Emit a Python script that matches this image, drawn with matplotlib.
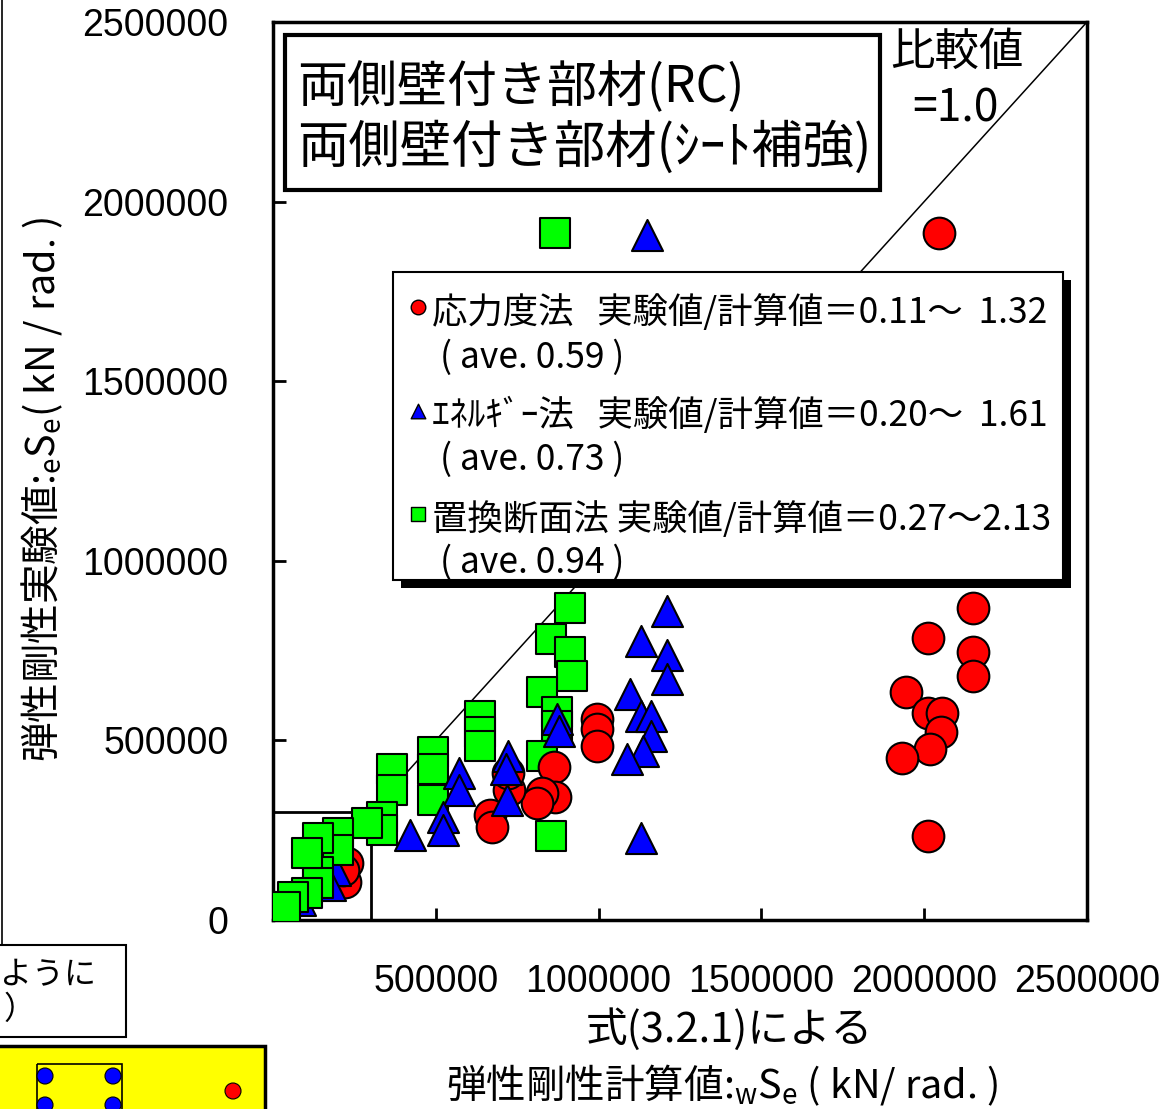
import numpy as np
import matplotlib.pyplot as plt
from matplotlib.patches import Rectangle, Circle

plt.rcParams['font.family'] = ['Noto Sans CJK JP', 'DejaVu Sans']
plt.rcParams['mathtext.fontset'] = 'custom'
plt.rcParams['mathtext.rm'] = 'Noto Sans CJK JP'
plt.rcParams['mathtext.it'] = 'Noto Sans CJK JP'

# 応力度法 (計算値, 実験値)
stress_x = [2046000, 2150000, 2012000, 2150000, 2150000, 1945000, 2012000, 2055000,
            2052000, 2018000, 1933000, 2012000, 994000, 994000, 994000, 862000,
            865000, 825000, 810000, 724000, 721000, 666000, 672000, 227000, 221000, 215000]
stress_y = [1913000, 868700, 785000, 745800, 678700, 634000, 575400, 575400,
            522300, 474900, 449700, 234600, 558700, 530700, 483200, 424600,
            343600, 354700, 326800, 363100, 410600, 293300, 259800, 159200, 106100, 139700]

# エネルギー法
energy_x = [1150000, 1208600, 1128800, 1208600, 1208600, 1095000, 1128800, 1159500,
            1159500, 1135000, 1086000, 1128800, 871000, 877000, 721000, 715000,
            718000, 570000, 570000, 521000, 521000, 420000, 190000, 175000, 83000]
energy_y = [1908000, 860300, 776500, 737400, 670400, 628500, 567000, 567000,
            511200, 469300, 446900, 229000, 558700, 525100, 455300, 419000,
            335200, 410600, 363100, 287700, 251400, 237400, 140000, 98000, 56000]

# 置換断面法
trans_x = [865000, 911000, 853000, 911000, 917000, 825000, 871000, 871000, 825000,
           853000, 635000, 635000, 635000, 491000, 491000, 491000, 365000, 365000,
           334000, 334000, 288000, 199000, 199000, 138000, 138000, 138000, 104000,
           104000, 61000, 37000]
trans_y = [1913000, 868700, 782100, 745800, 678700, 634000, 578200, 539100, 455300,
           234600, 567000, 522300, 483200, 466400, 419000, 335200, 419000, 363100,
           287700, 251400, 271000, 243000, 195500, 229000, 134100, 103300, 187100,
           75400, 64200, 36300]

ticks = [0, 500000, 1000000, 1500000, 2000000, 2500000]
xtick_labels = ['', '500000', '1000000', '1500000', '2000000', '2500000']
ytick_labels = ['0', '500000', '1000000', '1500000', '2000000', '2500000']
zoom_limit = 300000

legend_lines = [
    '応力度法   実験値/計算値＝0.11～  1.32', '( ave. 0.59 )',
    'ｴﾈﾙｷﾞｰ法   実験値/計算値＝0.20～  1.61', '( ave. 0.73 )',
    '置換断面法 実験値/計算値＝0.27～2.13', '( ave. 0.94 )',
]

W, H = 1171, 1109
fig = plt.figure(figsize=(W / 100, H / 100), dpi=100)
ax = fig.add_axes([273 / W, 1 - 920 / H, (1087 - 273) / W, (920 - 22) / H])

ax.set_xlim(0, 2500000)
ax.set_ylim(0, 2500000)

# 比較値 = 1.0 の線
ax.plot([0, 2500000], [0, 2500000], color='black', lw=1.1, zorder=1)
# 拡大範囲の枠
ax.plot([0, zoom_limit, zoom_limit], [zoom_limit, zoom_limit, 0], color='black', lw=2, zorder=1)

sx, sy = np.array(trans_x), np.array(trans_y)
small = sx < 400000
kw = dict(edgecolors='black', linewidths=1.5)
ax.scatter(sx[~small], sy[~small], marker='s', s=440, c='#00ff00', zorder=2, **kw)
ax.scatter(stress_x, stress_y, marker='o', s=520, c='#ff0000', zorder=3, **kw)
ax.scatter(energy_x, energy_y, marker='^', s=500, c='#0000ff', zorder=4, **kw)
ax.scatter(sx[small], sy[small], marker='s', s=440, c='#00ff00', zorder=5, **kw)

ax.set_xticks(ticks)
ax.set_yticks(ticks)
ax.set_xticklabels(xtick_labels, family='Liberation Sans', fontsize=27)
ax.set_yticklabels(ytick_labels, family='Liberation Sans', fontsize=27)
ax.tick_params(direction='in', length=9, width=2)
ax.tick_params(axis='x', pad=32)
ax.tick_params(axis='y', pad=32)
for sp in ax.spines.values():
    sp.set_linewidth(2.5)

# 注記・凡例はピクセル座標の重ね合わせ軸に描く
ov = fig.add_axes([0, 0, 1, 1])
ov.set_xlim(0, W)
ov.set_ylim(H, 0)
ov.axis('off')

# タイトル枠
ov.add_patch(Rectangle((285, 35), 595, 155, facecolor='white', edgecolor='black', lw=3))
ov.text(297, 88, '両側壁付き部材(RC)', fontsize=36, va='center', ha='left')
ov.text(297, 148, '両側壁付き部材(ｼｰﾄ補強)', fontsize=37, va='center', ha='left')
ov.text(957, 52, '比較値', fontsize=32, va='center', ha='center')
ov.text(955, 108, '=1.0', fontsize=32, va='center', ha='center')

# 凡例枠 (影付き)
ov.add_patch(Rectangle((401, 280), 670, 308, facecolor='black', edgecolor='none'))
ov.add_patch(Rectangle((393, 272), 670, 308, facecolor='white', edgecolor='black', lw=1.5))
ov.scatter([418], [307], marker='o', s=110, c='#ff0000', edgecolors='black', linewidths=1)
ov.scatter([418], [411], marker='^', s=110, c='#0000ff', edgecolors='black', linewidths=1)
ov.scatter([418], [514], marker='s', s=110, c='#00ff00', edgecolors='black', linewidths=1)
line_y = [313, 358, 415, 460, 520, 563]
for i, (txt, yy) in enumerate(zip(legend_lines, line_y)):
    xx = 432 if i % 2 == 0 else 440
    ov.text(xx, yy, txt, fontsize=25.5, va='center', ha='left')

# 軸ラベル
ov.text(42, 490, '弾性剛性実験値:${}_\\mathrm{e}$S$_\\mathrm{e}$( kN / rad. )',
        fontsize=28.5, rotation=90, va='center', ha='center')
ov.text(729, 1030, '式(3.2.1)による', fontsize=30, va='center', ha='center')
ov.text(722, 1085, '弾性剛性計算値:${}_\\mathrm{w}$S$_\\mathrm{e}$ ( kN/ rad. )',
        fontsize=28.5, va='center', ha='center')

# 左下の周辺要素
ov.plot([1.5, 1.5], [0, 945], color='black', lw=1.2)
ov.add_patch(Rectangle((-5, 945), 131, 92, facecolor='white', edgecolor='black', lw=1.5))
ov.text(96, 975, 'ように', fontsize=23, va='center', ha='right')
ov.text(36, 1010, '）', fontsize=23, va='center', ha='right')
ov.add_patch(Rectangle((-5, 1046), 270, 80, facecolor='#ffff00', edgecolor='black', lw=2.5))
ov.add_patch(Rectangle((37, 1064), 85, 60, facecolor='none', edgecolor='black', lw=1.2))
for cx, cy in [(45, 1076), (113, 1076), (45, 1105), (113, 1105)]:
    ov.add_patch(Circle((cx, cy), 8, facecolor='#0000ff', edgecolor='black', lw=0.8))
ov.add_patch(Circle((233, 1091), 8, facecolor='#ff0000', edgecolor='black', lw=0.8))

fig.savefig('out.png', dpi=100)
